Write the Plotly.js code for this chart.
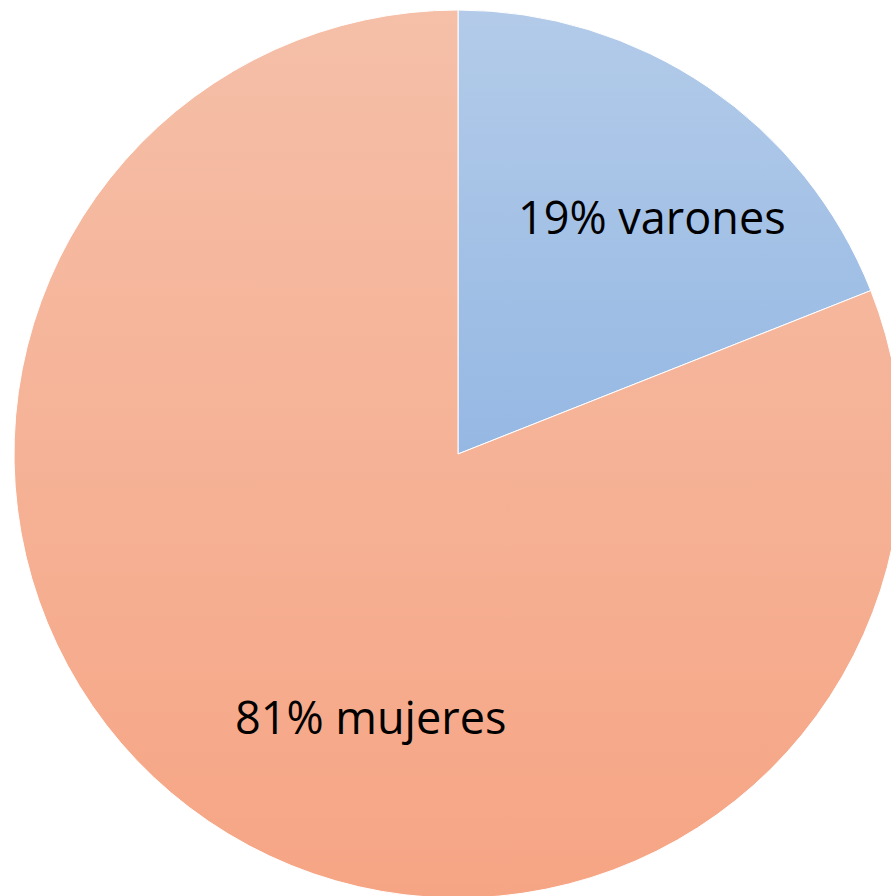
<!DOCTYPE html>
<html>
<head>
<meta charset="utf-8">
<script src="https://cdn.plot.ly/plotly-3.0.1.min.js"></script>
<style>
html,body{margin:0;padding:0;overflow:hidden;background:#fff;width:891px;height:896px;}
#chart{width:916px;height:908px;}
</style>
</head>
<body>
<div id="chart"></div>
<script>
const labels = ["varones", "mujeres"];
const values = [19, 81];
const colorsTop = ["#b3cbe9", "#f5bfa8"];
const colorsBottom = ["#95b8e3", "#f6a584"];

const trace = {
  type: "pie",
  labels: labels,
  values: values,
  sort: false,
  direction: "clockwise",
  rotation: 0,
  textinfo: "none",
  hoverinfo: "none",
  marker: {colors: ["#a4c1e6", "#f5b295"], line: {color: "#ffffff", width: 1}},
  showlegend: false
};

const annPos = [{x: 0.7185, y: 0.767}, {x: 0.401, y: 0.204}];
const annotations = labels.map((l, i) => ({
  xref: "paper", yref: "paper",
  x: annPos[i].x, y: annPos[i].y,
  xanchor: "center", yanchor: "middle",
  text: values[i] + "% " + l,
  showarrow: false,
  font: {family: "Open Sans, Noto Sans, sans-serif", size: 45, color: "#000000"}
}));

const layout = {
  width: 916, height: 908,
  margin: {l: 14, r: 14, t: 10, b: 10},
  paper_bgcolor: "#ffffff",
  plot_bgcolor: "#ffffff",
  annotations: annotations
};

Plotly.newPlot("chart", [trace], layout, {staticPlot: true, displayModeBar: false}).then(function(gd){
  const svg = gd.querySelector("svg.main-svg");
  const ns = "http://www.w3.org/2000/svg";
  let defs = svg.querySelector("defs");
  if (!defs) { defs = document.createElementNS(ns, "defs"); svg.insertBefore(defs, svg.firstChild); }
  labels.forEach((l, i) => {
    const g = document.createElementNS(ns, "linearGradient");
    g.setAttribute("id", "grad" + i);
    g.setAttribute("x1", "0"); g.setAttribute("y1", "0");
    g.setAttribute("x2", "0"); g.setAttribute("y2", "1");
    const s1 = document.createElementNS(ns, "stop");
    s1.setAttribute("offset", "0"); s1.setAttribute("stop-color", colorsTop[i]);
    const s2 = document.createElementNS(ns, "stop");
    s2.setAttribute("offset", "1"); s2.setAttribute("stop-color", colorsBottom[i]);
    g.appendChild(s1); g.appendChild(s2);
    defs.appendChild(g);
  });
  const paths = gd.querySelectorAll("g.slice path.surface");
  paths.forEach((p, i) => { p.style.fill = "url(#grad" + i + ")"; });
});
</script>
</body>
</html>
